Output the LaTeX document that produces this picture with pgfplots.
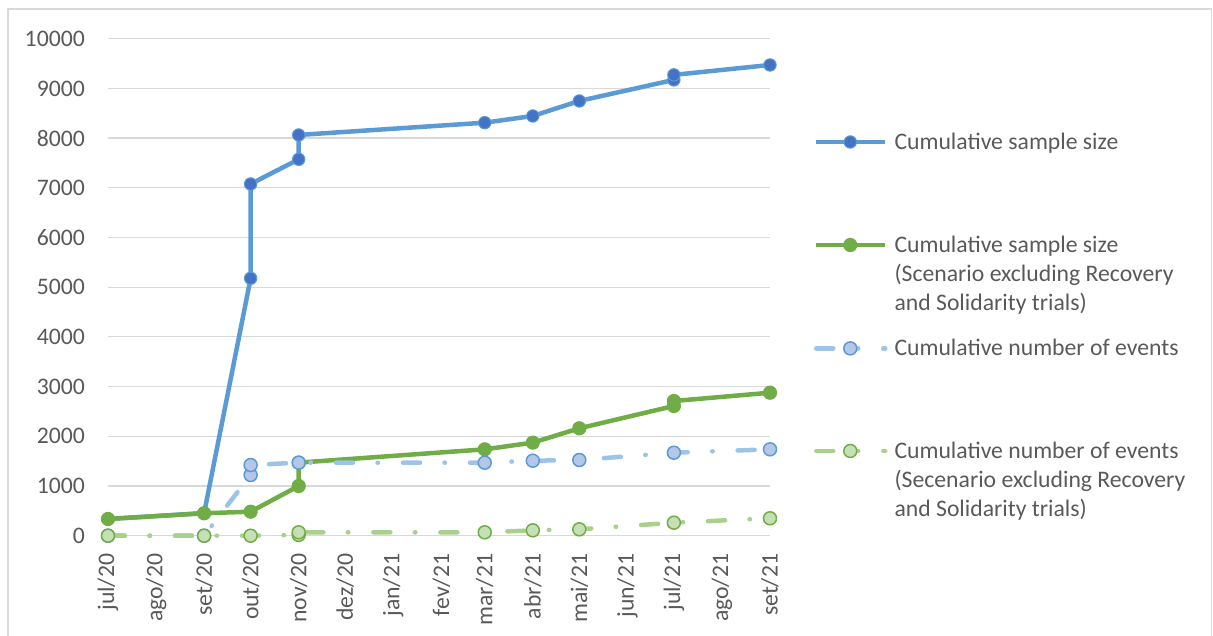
\documentclass[border=0pt]{standalone}
\usepackage{fontspec}
\setmainfont{Carlito}
\usepackage{pgfplots}
\pgfplotsset{compat=1.18}

\definecolor{cblue}{HTML}{5B9BD5}
\definecolor{cbluedk}{HTML}{4472C4}
\definecolor{cgreen}{HTML}{70AD47}
\definecolor{clblue}{HTML}{9DC3E6}
\definecolor{clbluefill}{HTML}{B4C7E7}
\definecolor{clgreen}{HTML}{A9D18E}
\definecolor{clgreenfill}{HTML}{C5E0B4}
\definecolor{cgrid}{HTML}{D9D9D9}
\definecolor{txt}{HTML}{595959}

\newcommand\chartfont{\fontsize{23.7}{29.2}\selectfont}

% one axis per series, all on the same plot area, so that each legend
% entry can be placed where the reference puts it
\pgfplotsset{
  base/.style={
    scale only axis, width=662pt, height=497pt,
    xmin=0, xmax=427, ymin=0, ymax=10000,
    enlargelimits=false, clip=false,
    line join=round,
    legend cell align=left,
    legend style={draw=none, fill=none, inner sep=0pt, outer sep=0pt,
      column sep=7pt, font=\chartfont, text=txt,
      nodes={inner sep=0pt}, cells={anchor=base west},
      anchor=north west},
    legend image code/.code={
      \draw[mark repeat=2,mark phase=2,##1] plot coordinates {(0pt,7.3pt) (34pt,7.3pt) (69pt,7.3pt)};
    },
  },
  evdash/.style={line width=4.5pt, line cap=round,
    dash pattern=on 17pt off 24.5pt on 0.5pt off 25pt},
}

\begin{document}
\begin{tikzpicture}
% cumulative sample size (with the grid and ticks)
\begin{axis}[base,
  axis lines*=left, axis line style={draw=none},
  major tick length=0pt,
  xtick={0,31,62,92,123,153,184,215,243,274,304,335,365,396,427},
  xticklabels={jul/20,ago/20,set/20,out/20,nov/20,dez/20,jan/21,fev/21,mar/21,abr/21,mai/21,jun/21,jul/21,ago/21,set/21},
  ytick={0,1000,...,10000},
  scaled y ticks=false,
  /pgf/number format/1000 sep={},
  /pgf/number format/assume math mode=true,
  tick label style={font=\chartfont, text=txt, inner sep=0pt},
  xticklabel style={rotate=90, anchor=east, xshift=-18pt},
  yticklabel style={anchor=east, xshift=-23pt},
  ymajorgrids, major grid style={color=cgrid, line width=1.2pt},
  legend style={at={(1.0665,0.8186)}},
]
\addplot[color=cblue, line width=4.5pt, mark=*, mark size=6.2pt,
  mark options={fill=cbluedk, draw=cblue, line width=1pt}]
coordinates {
  (0,336) (62,455) (92,5179) (92,7077) (123,7573) (123,8063)
  (243,8310) (274,8445) (304,8747) (365,9171) (365,9272) (427,9471)
};
\addlegendentry{\strut Cumulative sample size}
\end{axis}

% cumulative sample size, scenario excluding Recovery and Solidarity
\begin{axis}[base, hide axis, legend style={at={(1.0665,0.6113)}}]
\addplot[color=cgreen, line width=4.5pt, mark=*, mark size=6.6pt,
  mark options={fill=cgreen, draw=cgreen, line width=1pt}]
coordinates {
  (0,336) (62,451) (92,483) (123,1000) (123,1470) (243,1738)
  (274,1872) (304,2161) (365,2610) (365,2710) (427,2877)
};
\addlegendentry{\vtop{\hbox{\strut Cumulative sample size}\hbox{(Scenario excluding Recovery}\hbox{and Solidarity trials)}}}
\end{axis}

% cumulative number of events
\begin{axis}[base, hide axis, legend style={at={(1.0665,0.4033)}}]
\addplot[color=clblue, evdash, mark=*, mark size=6.5pt,
  mark options={solid, fill=clbluefill, draw=cblue, line width=1.5pt}]
coordinates {
  (0,0) (62,0) (92,1221) (92,1422) (123,1470) (243,1469)
  (274,1509) (304,1523) (365,1670) (427,1738)
};
\addlegendentry{\strut Cumulative number of events}
\end{axis}

% cumulative number of events, scenario excluding Recovery and Solidarity
\begin{axis}[base, hide axis, legend style={at={(1.0665,0.1969)}}]
\addplot[color=clgreen, evdash, mark=*, mark size=6.5pt,
  mark options={solid, fill=clgreenfill, draw=cgreen, line width=1.5pt}]
coordinates {
  (0,0) (62,0) (92,0) (123,15) (123,68) (243,68)
  (274,108) (304,128) (365,262) (427,350)
};
\addlegendentry{\vtop{\hbox{\strut Cumulative number of events}\hbox{(Secenario excluding Recovery}\hbox{and Solidarity trials)}}}
\end{axis}

\draw[cgrid, line width=1.2pt] (-100pt,-110pt) rectangle (1103.5pt,526.7pt);
\pgfresetboundingbox
\path[use as bounding box] (-108pt,-100.3pt) rectangle (1105pt,535.7pt);
\end{tikzpicture}
\end{document}
